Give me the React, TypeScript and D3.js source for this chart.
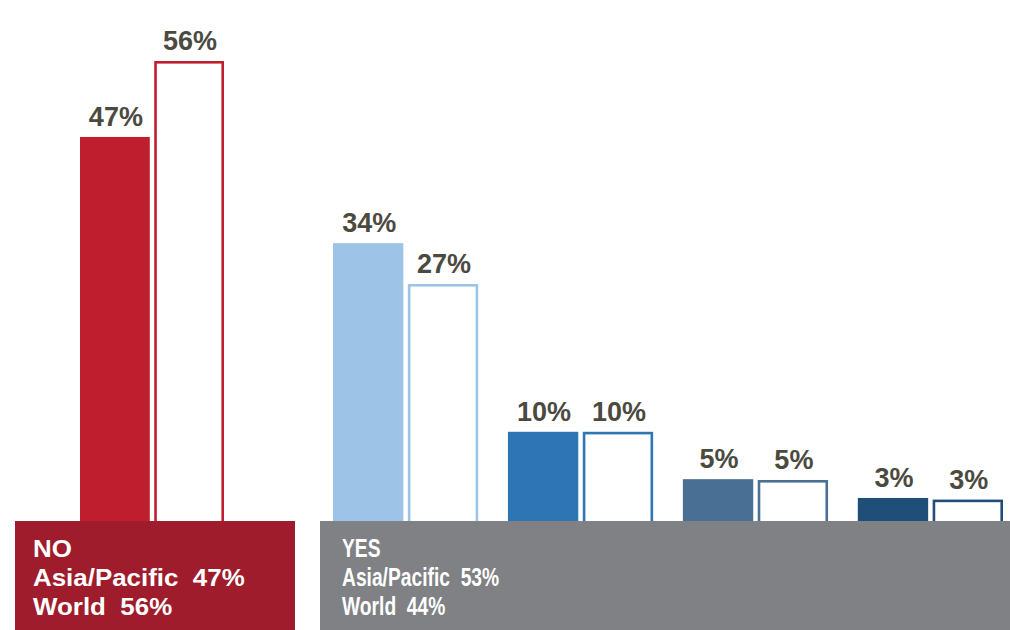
import { useEffect, useRef } from "react"
import * as d3 from "d3"

// YES answer categories (left to right) – the NO group is drawn on its own
const yesCategories = ["yes1", "yes2", "yes3", "yes4"]
const series = ["Asia/Pacific", "World"]

// bar heights (percent)
const noAsia = 46.9
const noWorld = 56.2
const yesAsia = [33.9, 10.8, 5.0, 2.7]
const yesWorld = [28.9, 10.8, 4.9, 2.5]

// printed labels
const noLabels = ["47%", "56%"]
const yesAsiaLabels = ["34%", "10%", "5%", "3%"]
const yesWorldLabels = ["27%", "10%", "5%", "3%"]

const noBoxLines = ["NO", "Asia/Pacific  47%", "World  56%"]
const yesBoxLines = ["YES", "Asia/Pacific  53%", "World  44%"]

const noColor = "#be1e2d"
const yesColors = ["#9dc3e6", "#2e75b6", "#4a6f94", "#1f4e79"]

type Bar = { key: string; series: string; value: number; label: string; color: string }

export default function App() {
  const svgRef = useRef<SVGSVGElement | null>(null)

  useEffect(() => {
    document.body.style.margin = "0"
    if (!svgRef.current) return
    const svg = d3.select(svgRef.current)
    svg.selectAll("*").remove()

    const width = 1010
    const height = 630
    const baseY = 520

    svg.attr("width", width).attr("height", height).attr("viewBox", `0 0 ${width} ${height}`)

    const y = d3.scaleLinear().domain([0, 56.2]).range([baseY, 61])

    const noX = d3.scaleBand<string>().domain(["NO"]).range([80, 224]).padding(0)
    const yesX = d3
      .scaleBand<string>()
      .domain(yesCategories)
      .range([333, 1003])
      .paddingInner(0.17)
      .paddingOuter(0)

    const bars: (Bar & { x: number; w: number })[] = []
    const addGroup = (key: string, x0: number, bw: number, vals: number[], labels: string[], color: string) => {
      const sub = d3.scaleBand<string>().domain(series).range([0, bw]).paddingInner(0.06)
      series.forEach((s, i) => {
        bars.push({
          key,
          series: s,
          value: vals[i],
          label: labels[i],
          color,
          x: x0 + (sub(s) ?? 0),
          w: sub.bandwidth(),
        })
      })
    }

    addGroup("NO", noX("NO") ?? 0, noX.bandwidth(), [noAsia, noWorld], noLabels, noColor)
    yesCategories.forEach((c, i) => {
      addGroup(c, yesX(c) ?? 0, yesX.bandwidth(), [yesAsia[i], yesWorld[i]], [yesAsiaLabels[i], yesWorldLabels[i]], yesColors[i])
    })

    const sw = 2.6
    svg
      .append("g")
      .selectAll("rect")
      .data(bars)
      .join("rect")
      .attr("x", (d) => (d.series === "World" ? d.x + sw / 2 : d.x))
      .attr("y", (d) => (d.series === "World" ? y(d.value) + sw / 2 : y(d.value)))
      .attr("width", (d) => (d.series === "World" ? d.w - sw : d.w))
      .attr("height", (d) => baseY - y(d.value) + 4)
      .attr("fill", (d) => (d.series === "World" ? "#ffffff" : d.color))
      .attr("stroke", (d) => (d.series === "World" ? d.color : "none"))
      .attr("stroke-width", sw)

    svg
      .append("g")
      .selectAll("text")
      .data(bars)
      .join("text")
      .text((d) => d.label)
      .attr("x", (d) => d.x + d.w / 2 + 1)
      .attr("y", (d) => y(d.value) - 11)
      .attr("text-anchor", "middle")
      .attr("fill", "#4b4a3f")
      .attr("font-family", "Liberation Sans, Arial, sans-serif")
      .attr("font-size", 27)
      .attr("font-weight", 700)

    // answer boxes along the bottom
    const boxes = [
      { x0: 15, x1: 295, fill: "#9e1c2b", lines: noBoxLines, tx: 33, size: 24, sx: 1.08 },
      { x0: 320, x1: width, fill: "#808184", lines: yesBoxLines, tx: 342, size: 26, sx: 0.74 },
    ]

    boxes.forEach((b) => {
      const g = svg.append("g")
      g.append("rect")
        .attr("x", b.x0)
        .attr("y", baseY + 1)
        .attr("width", b.x1 - b.x0)
        .attr("height", height - baseY)
        .attr("fill", b.fill)
      g.selectAll("text")
        .data(b.lines)
        .join("text")
        .text((d) => d)
        .attr("x", 0)
        .attr("y", 0)
        .attr("transform", (_, i) => `translate(${b.tx},${557 + i * 29}) scale(${b.sx},1)`)
        .attr("fill", "#ffffff")
        .attr("font-family", "Liberation Sans, Arial, sans-serif")
        .attr("font-size", b.size)
        .attr("font-weight", 700)
        .style("white-space", "pre")
    })
  }, [])

  return (
    <div style={{ width: 1010, height: 630 }}>
      <svg ref={svgRef} style={{ display: "block" }} />
    </div>
  )
}
